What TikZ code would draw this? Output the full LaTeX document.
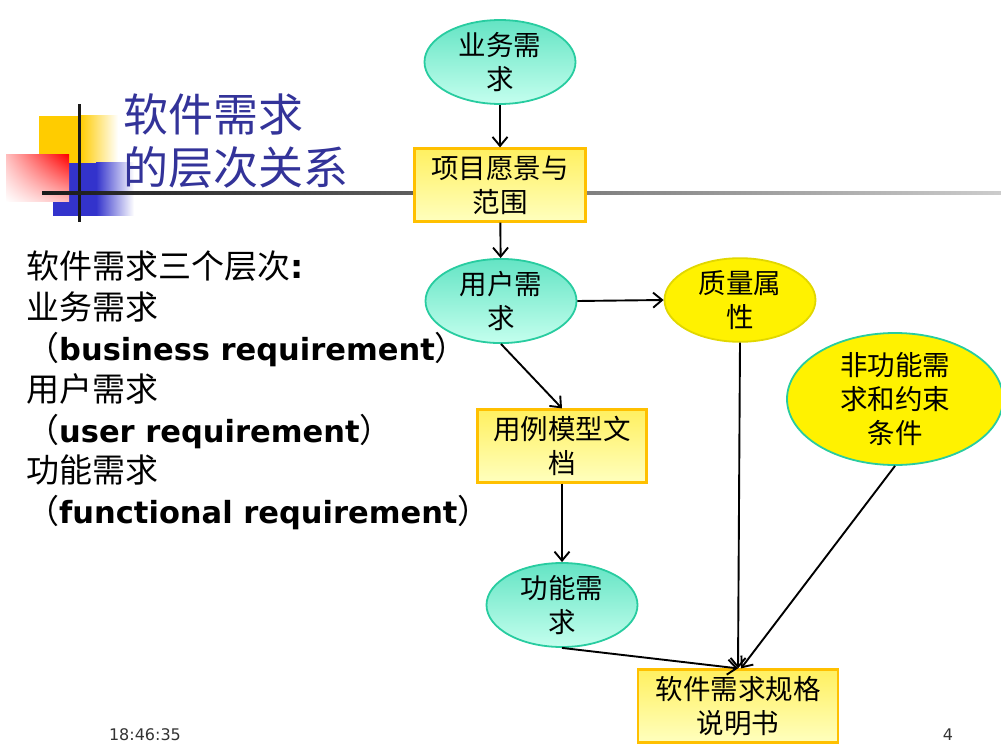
\documentclass[tikz,border=0pt]{standalone}
\usepackage{fontspec}
\setmainfont{Noto Sans CJK SC}
\newfontfamily\latinfont{DejaVu Sans}
\usepackage{tikz}
\usetikzlibrary{positioning}
\usetikzlibrary{shapes.geometric}
\usetikzlibrary{shadings}
\usetikzlibrary{arrows.meta}

\definecolor{titleblue}{RGB}{51,51,153}
\definecolor{gold}{RGB}{255,204,0}
\definecolor{deepblue}{RGB}{51,51,204}
\definecolor{elltop}{RGB}{100,228,196}
\definecolor{ellbot}{RGB}{196,255,238}
\definecolor{ellline}{RGB}{40,204,160}
\definecolor{boxtop}{RGB}{255,240,96}
\definecolor{boxbot}{RGB}{255,255,190}
\definecolor{boxline}{RGB}{255,192,0}
\definecolor{yelline}{RGB}{225,215,0}

\begin{document}
\begin{tikzpicture}[
	  x=1pt, y=-1pt,
	  every node/.style = {align=center, inner sep=0pt},
	  greenell/.style = {shape=ellipse, draw=ellline, line width=1.8pt, top color=elltop, bottom color=ellbot, minimum width=151pt, minimum height=75pt, font=\fontsize{27.5}{34}\selectfont},
	  yellowell/.style = {shape=ellipse, draw=yelline, line width=1.8pt, fill=yellow, minimum width=151pt, minimum height=75pt, font=\fontsize{27.5}{34}\selectfont},
	  notebox/.style = {shape=rectangle, draw=boxline, line width=2.2pt, top color=boxtop, bottom color=boxbot, minimum height=73pt, font=\fontsize{27.5}{34}\selectfont},
	  flow/.style = {draw, line width=1.9pt, -{Straight Barb[length=9pt,width=15pt]}}
	]
	  \useasboundingbox (0,0) rectangle (1001,746);

	  % corner decoration
	  \fill[gold] (39,116) rectangle (80,163);
	  \shade[left color=gold, right color=white] (80,116) rectangle (118,163);
	  \fill[deepblue] (53,163) rectangle (96,216);
	  \shade[left color=deepblue, right color=white] (96,163) rectangle (134,216);
	  \shade[upper left=red!25, upper right=red, lower left=white, lower right=red!25] (6,155) rectangle (69,202);
	  \fill[black!90] (77.5,104) rectangle (80.5,222);
	  \shade[left color=black!90, right color=black!20] (42,191.5) rectangle (1001,194.5);

	  \node[anchor=west, align=left, text=titleblue, font=\fontsize{45}{53}\selectfont] (title) at (123,141) {软件需求\\的层次关系};

	  \node[anchor=west, align=left, font=\fontsize{33}{40.8}\selectfont] (levels) at (26,390.5)
	  {软件需求三个层次{\latinfont\bfseries :}\\
	   业务需求\\
	   （{\latinfont\bfseries\fontsize{30.5}{40.8}\selectfont business requirement}）\\
	   用户需求\\
	   （{\latinfont\bfseries\fontsize{30.5}{40.8}\selectfont user requirement}）\\
	   功能需求\\
	   （{\latinfont\bfseries\fontsize{30.5}{40.8}\selectfont functional requirement}）};

	  % hierarchy
	  \node[greenell] (biz) at (500,62) {业务需\\求};
	  \node[notebox, minimum width=171pt] (vision) at (500,185) {项目愿景与\\范围};
	  \node[greenell] (user) at (501,301) {用户需\\求};
	  \node[yellowell] (quality) at (740,300) {质量属\\性};
	  \node[yellowell, draw=ellline, minimum width=216pt, minimum height=106pt] (nonfunc) at (895,399) {非功能需\\求和约束\\条件};
	  \node[notebox, minimum width=169pt] (usecase) at (562,446) {用例模型文\\档};
	  \node[greenell] (func) at (562,605) {功能需\\求};
	  \node[notebox, minimum width=200pt] (spec) at (738,706) {软件需求规格\\说明书};

	  \draw[flow] (biz) -- (vision);
	  \draw[flow] (vision) -- (user);
	  \draw[flow] (user.east) -- (quality.west);
	  \draw[flow] (user.south) -- (usecase.north);
	  \draw[flow] (usecase) -- (func);
	  \draw[flow] (quality.south) -- (spec.north);
	  \draw[flow] (nonfunc.south) -- ([xshift=3pt]spec.north);
	  \draw[flow] (func.south) -- (spec.north);

	  \node[text=black!80, font=\latinfont\fontsize{16}{18}\selectfont] (clock) at (145,735) {18:46:35};
	  \node[text=black!80, font=\latinfont\fontsize{16}{18}\selectfont] (page) at (948,735) {4};
	\end{tikzpicture}
\end{document}
